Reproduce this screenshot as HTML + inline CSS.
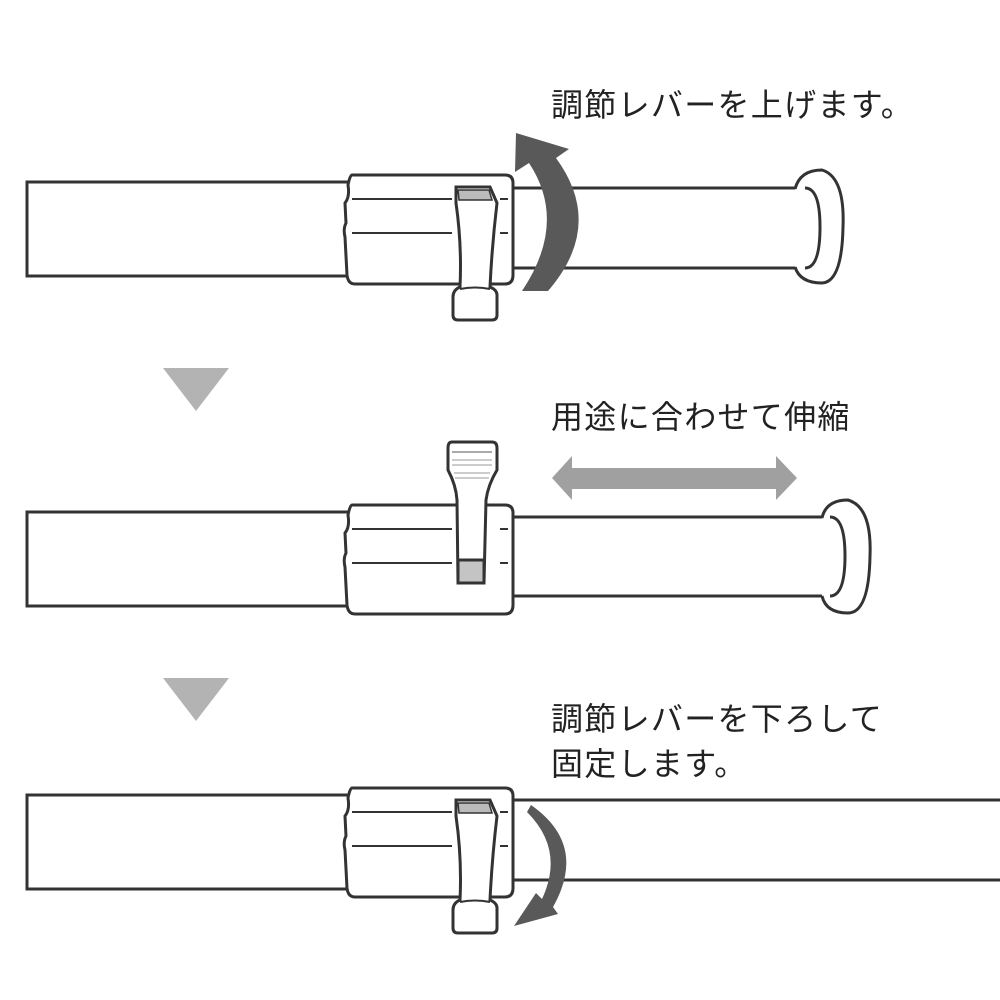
<!DOCTYPE html>
<html><head><meta charset="utf-8"><style>
body{margin:0;background:#fff}
svg{display:block}
text{font-family:"Liberation Sans","Noto Sans CJK JP",sans-serif;font-size:32px;fill:#222;letter-spacing:1.3px}
</style></head><body>
<svg width="1000" height="1000" viewBox="0 0 1000 1000">
<defs>
<g id="sleeve" stroke="#333" stroke-width="3" fill="#fff">
  <rect x="27" y="7" width="325" height="94"/>
  <path d="M352,0 L505,0 Q513,0 513,8 L513,100 Q513,109 505,109 L355,109 Q348,109 347,100 L345,62 Q343,54 346,48 L345,28 Q350,22 348,10 Q350,0 352,0 Z"/>
  <line x1="352" y1="24" x2="452" y2="24" stroke-width="2"/>
  <line x1="352" y1="58" x2="452" y2="58" stroke-width="2"/>
  <line x1="500" y1="24" x2="508" y2="24" stroke-width="2"/>
  <line x1="500" y1="58" x2="508" y2="58" stroke-width="2"/>
</g>
<g id="leverdown" stroke="#333" stroke-width="3" fill="#fff">
  <path d="M456,12 L490,12 L497,28 Q492,70 490,112 Q497,115 497,120 L497,140 Q497,145 492,145 L458,145 Q453,145 453,140 L453,122 Q453,115 460,112 Q462,70 456,28 Z"/>
  <path d="M458,15 L489,15 L492,25 L459,25 Z" fill="#bbb" stroke-width="1.5"/>
  <path d="M460,114 Q475,111 490,114" fill="none" stroke-width="2"/>
</g>
</defs>

<g transform="translate(0,175)">
  <path d="M510,13 L805,13 Q820,13 820,52 Q820,93 805,93 L510,93" fill="#fff" stroke="#333" stroke-width="3"/>
  <path d="M795,14 Q800,-5 822,-5 Q845,2 843,52 Q842,107 822,108 Q800,108 795,92" fill="#fff" stroke="#333" stroke-width="3"/>
  <path d="M805,13 Q820,13 820,52 Q820,93 805,93" fill="none" stroke="#333" stroke-width="3"/>
  <use href="#sleeve"/>
  <use href="#leverdown"/>
</g>
<path d="M548,291 Q605,225 556,158 L569,149 L516,133 L515,172 L529,163 Q568,222 522,291 Z" fill="#595959"/>

<polygon points="163,368 229,368 196,411" fill="#b3b3b3"/>

<g transform="translate(0,505)">
  <path d="M510,12 L830,12 Q845,12 845,51 Q845,91 830,91 L510,91" fill="#fff" stroke="#333" stroke-width="3"/>
  <path d="M822,13 Q826,-5 848,-5 Q872,2 870,51 Q869,108 848,108 Q826,108 822,91" fill="#fff" stroke="#333" stroke-width="3"/>
  <path d="M830,12 Q845,12 845,51 Q845,91 830,91" fill="none" stroke="#333" stroke-width="3"/>
  <use href="#sleeve"/>
</g>
<g stroke="#333" fill="#fff" stroke-width="3">
  <path d="M452,442 Q448,442 448,448 L448,470 Q456,485 457,500 L458,583 L484,583 L486,500 Q488,485 497,470 L497,448 Q497,442 492,442 Z"/>
  <rect x="458" y="560" width="26" height="23" fill="#c4c4c4"/>
  <g stroke-width="1" stroke="#999">
    <line x1="452" y1="452" x2="492" y2="452" stroke="#555"/>
    <line x1="452" y1="460" x2="492" y2="460"/>
    <line x1="452" y1="465" x2="492" y2="465"/>
    <line x1="454" y1="473" x2="490" y2="473"/>
    <line x1="455" y1="478" x2="489" y2="478"/>
  </g>
</g>
<polygon points="552,478 572,456 572,468 776,468 776,456 797,478 776,500 776,489 572,489 572,500" fill="#a0a0a0"/>

<polygon points="163,678 229,678 196,721" fill="#b3b3b3"/>

<g transform="translate(0,788)">
  <path d="M510,12 L1000,12 M510,92 L1000,92" stroke="#333" stroke-width="3"/>
  <use href="#sleeve"/>
  <use href="#leverdown"/>
</g>
<path d="M531,805 Q588,845 553,907 L558,914 L514,926 L536,893 L542,899 Q565,850 527,812 Z" fill="#595959"/>

<text x="551" y="116">調節レバーを上げます。</text>
<text x="551" y="428">用途に合わせて伸縮</text>
<text x="551" y="730">調節レバーを下ろして</text>
<text x="551" y="775">固定します。</text>
</svg>
</body></html>
